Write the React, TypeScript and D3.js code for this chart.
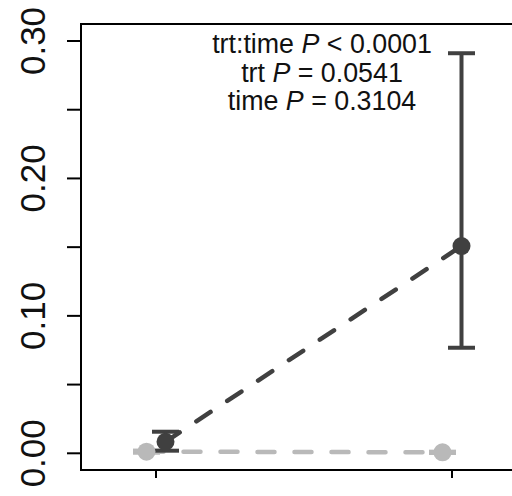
import React from "react";
import * as d3 from "d3";

const times = [1, 2];
const yTicks = [0, 0.05, 0.1, 0.15, 0.2, 0.25, 0.3];
const yLabelTicks = [0, 0.1, 0.2, 0.3];

const seriesNames = ["group1", "group2"];
const meanLight = [0.0012, 0.0007];
const lowLight = [0.0004, 0.0002];
const highLight = [0.002, 0.0012];
const meanDark = [0.0084, 0.1508];
const lowDark = [0.0019, 0.0768];
const highDark = [0.0157, 0.2911];

const annotations = [
  { pre: "trt:time ", post: " < 0.0001" },
  { pre: "trt ", post: " = 0.0541" },
  { pre: "time ", post: " = 0.3104" },
];

const W = 512;
const H = 496;

export default function App() {
  const x = d3.scaleLinear().domain([0.75, 2.25]).range([82, 526]);
  const y = d3.scaleLinear().domain([0, 0.3]).range([453.3, 41]);
  const boxTop = 24;
  const boxBottom = 470;
  const boxLeft = 81;
  const dodge = 9.5;

  const series = [
    { name: seriesNames[0], mean: meanLight, low: lowLight, high: highLight, color: "#b9b9b9", off: -dodge },
    { name: seriesNames[1], mean: meanDark, low: lowDark, high: highDark, color: "#404040", off: dodge },
  ];

  const line = d3
    .line<number>()
    .x((_, i) => x(times[i]))
    .y((d) => y(d));

  const font = "'Liberation Sans', Arial, Helvetica, sans-serif";

  return (
    <svg
      width={W}
      height={H}
      style={{ position: "absolute", left: 0, top: 0, background: "#fff" }}
      fontFamily={font}
    >
      <rect x={0} y={0} width={W} height={H} fill="#fff" />
      <rect x={boxLeft} y={boxTop} width={560} height={boxBottom - boxTop} fill="none" stroke="#000" strokeWidth={2} />
      {yTicks.map((t) => (
        <line key={t} x1={67} x2={boxLeft} y1={y(t)} y2={y(t)} stroke="#000" strokeWidth={2} />
      ))}
      {yLabelTicks.map((t) => (
        <text
          key={t}
          transform={`translate(45,${y(t)}) rotate(-90)`}
          textAnchor="middle"
          fontSize={35}
          fill="#111"
        >
          {d3.format(".2f")(t)}
        </text>
      ))}
      {times.map((t) => (
        <line key={t} x1={x(t)} x2={x(t)} y1={boxBottom} y2={478} stroke="#000" strokeWidth={2} />
      ))}
      {series.map((s) => (
        <path
          key={s.name + "l"}
          d={line(s.mean) || ""}
          transform={`translate(${s.off},0)`}
          fill="none"
          stroke={s.color}
          strokeWidth={4.5}
          strokeDasharray="17 20"
          strokeLinecap="round"
        />
      ))}
      {series.map((s) =>
        times.map((t, i) => {
          const cx = x(t) + s.off;
          return (
            <g key={s.name + "e" + i} stroke={s.color} strokeWidth={4} strokeLinecap="butt">
              <line x1={cx} x2={cx} y1={y(s.low[i])} y2={y(s.high[i])} />
              <line x1={cx - 13.5} x2={cx + 13.5} y1={y(s.low[i])} y2={y(s.low[i])} />
              <line x1={cx - 13.5} x2={cx + 13.5} y1={y(s.high[i])} y2={y(s.high[i])} />
            </g>
          );
        })
      )}
      {series.map((s) =>
        times.map((t, i) => (
          <circle key={s.name + "p" + i} cx={x(t) + s.off} cy={y(s.mean[i])} r={9} fill={s.color} />
        ))
      )}
      {annotations.map((a, i) => (
        <text key={i} x={322} y={53.3 + i * 28.4} textAnchor="middle" fontSize={26.8} fill="#111">
          {a.pre}
          <tspan fontStyle="italic">P</tspan>
          {a.post}
        </text>
      ))}
    </svg>
  );
}
